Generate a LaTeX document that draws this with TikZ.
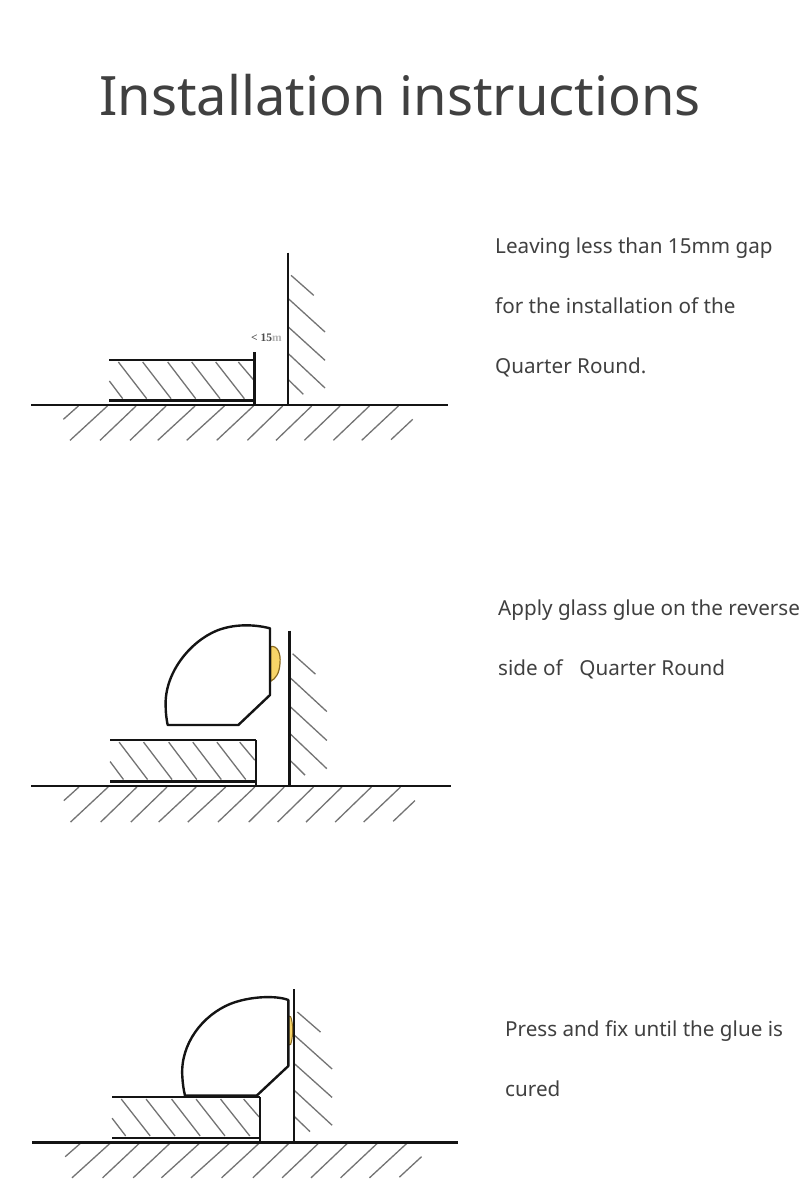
\documentclass[tikz,border=0pt]{standalone}
\usepackage{fontspec}
\setmainfont{Noto Sans}
\newfontfamily\smallserif{Liberation Serif}
\definecolor{inktext}{HTML}{404040}
\definecolor{gluefill}{HTML}{F8D568}
\definecolor{glueedge}{HTML}{8A6A20}
\tikzset{
  mainline/.style={black!92,line width=2.4pt},
  hatchline/.style={black!55,line width=1.3pt},
  bodytext/.style={anchor=base west,inner sep=0pt,text=inktext,font=\fontsize{20.65}{24}\selectfont},
  profile/.style={black!92,line width=2.4pt,line join=round}
}
% #1 x of wall foot, #2 y of floor, #3 x stretch, #4 y stretch ; drawing units are zoom units with wall foot at (803,494)
\newcommand{\basefig}[4]{%
\begin{scope}[shift={(#1,#2)},x=#3pt/3,y=-#4pt/3,shift={(-803,-494)}]
  \foreach \a/\b/\c/\d in {175/497/130/537,262/497/150/600,348/497/240/600,438/497/330/600,525/497/413/600,613/497/500/600,700/497/590/600,788/497/682/600,875/497/768/600,960/497/853/600,1048/497/940/600,1135/497/1025/600,1178/537/1113/598,
   813/105/881/165,805/175/915/275,805/260/915/360,805/340/915/443,805/418/850/462,
   295/365/380/475,368/365/453/475,443/365/527/475,515/365/600/475,587/365/673/475,655/365/700/418,268/422/308/475}
   {\draw[hatchline] (\a,\b) -- (\c,\d);}
  \draw[mainline] (33,494) -- (1285,494);
  \draw[mainline] (803,37) -- (803,494);
  \draw[mainline] (268,359) -- (703,359);
  \draw[mainline] (268,481) -- (703,481);
  \draw[mainline] (703,359) -- (703,494);
\end{scope}}
\begin{document}
\begin{tikzpicture}[x=1pt,y=-1pt]
\useasboundingbox (0,0) rectangle (800,1186);
\fill[white] (0,0) rectangle (800,1186);
\node[anchor=base,inner sep=0pt,text=inktext,font=\fontsize{54.3}{60}\selectfont] (title) at (400,115) {Installation instructions};

\basefig{287.7}{405}{1}{1}
\draw[mainline] (254.5,352) -- (254.5,360);
\node[anchor=base west,inner sep=0pt,text=black!70,font=\smallserif\bfseries\fontsize{11.5}{12}\selectfont] (gaplabel) at (251,341) {< 15\textcolor{black!30}{m}};

\basefig{289.3}{786}{1.005}{1.02}
\begin{scope}[shift={(20,610)},x=1pt/3,y=-1pt/3]
  \draw[glueedge,line width=1.2pt,fill=gluefill] (752,110) .. controls (772,105) and (783,130) .. (780,160) .. controls (778,190) and (768,205) .. (752,214) -- cycle;
  \draw[profile] (443,345) -- (655,345) -- (750,255) -- (750,55)
    .. controls (700,42) and (640,42) .. (590,62)
    .. controls (510,95) and (432,190) .. (437,290)
    .. controls (437,310) and (440,330) .. (443,345) -- cycle;
\end{scope}

\basefig{294}{1142.3}{1.02}{1.005}
\begin{scope}[shift={(20,980)},x=1pt/3,y=-1pt/3]
  \draw[glueedge,line width=1pt,fill=gluefill] (806,108) -- (812,110) .. controls (820,130) and (820,170) .. (812,193) -- (806,195) -- cycle;
  \draw[profile] (495,347) -- (710,347) -- (805,258) -- (805,60)
    .. controls (770,46) and (690,48) .. (630,72)
    .. controls (550,105) and (480,190) .. (487,290)
    .. controls (488,310) and (491,330) .. (495,347) -- cycle;
\end{scope}

\node[bodytext] (s1a) at (495,253) {Leaving less than 15mm gap};
\node[bodytext] (s1b) at (495,313) {for the installation of the};
\node[bodytext] (s1c) at (495,373) {Quarter Round.};
\node[bodytext] (s2a) at (498,615) {Apply glass glue on the reverse};
\node[bodytext] (s2b) at (498,675) {side of\hspace{0.55em} Quarter Round};
\node[bodytext] (s3a) at (505,1036) {Press and fix until the glue is};
\node[bodytext] (s3b) at (505,1096) {cured};
\end{tikzpicture}
\end{document}
